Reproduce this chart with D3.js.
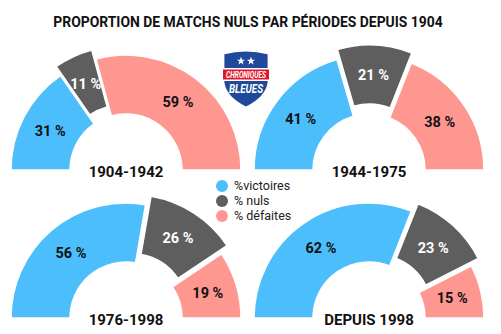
<!DOCTYPE html>
<html>
<head>
<meta charset="utf-8">
<script src="https://cdn.jsdelivr.net/npm/d3@7/dist/d3.min.js"></script>
<style>
  html, body { margin: 0; padding: 0; background: #fff; }
  svg { display: block; }
</style>
</head>
<body>
<svg id="chart" width="501" height="334"></svg>
<script>
const title = "PROPORTION DE MATCHS NULS PAR PÉRIODES DEPUIS 1904";
const periods = ["1904-1942", "1944-1975", "1976-1998", "DEPUIS 1998"];
const categories = ["victoires", "nuls", "defaites"];
const victoires = [31, 41, 56, 62];
const nuls = [11, 21, 26, 23];
const defaites = [59, 38, 19, 15];
const legendLabels = ["%victoires", "% nuls", "% défaites"];
const colors = ["#4bbefb", "#5e5e5e", "#ff9791"];
const labelColors = ["#111", "#fff", "#111"];

const W = 501, H = 334;
const svg = d3.select("#chart");
const FONT = "Roboto, 'Noto Sans', sans-serif";

svg.append("text")
  .attr("x", 248).attr("y", 27)
  .attr("text-anchor", "middle")
  .attr("font-family", FONT).attr("font-weight", "bold")
  .attr("font-size", 13.9).attr("fill", "#111")
  .text(title);

// grid of panels
const colX = d3.scalePoint().domain([0, 1]).range([126, 369]);
const rowY = d3.scalePoint().domain([0, 1]).range([170, 318]);
const outerR = 115, innerR = 56, explode = 10;

const pie = d3.pie().sort(null).value(d => d.value)
  .startAngle(-Math.PI / 2).endAngle(Math.PI / 2);
const arc = d3.arc().innerRadius(innerR).outerRadius(outerR);

periods.forEach((p, i) => {
  const data = [victoires[i], nuls[i], defaites[i]].map((v, k) => ({ key: categories[k], value: v, k }));
  const g = svg.append("g")
    .attr("transform", `translate(${colX(i % 2)},${rowY(Math.floor(i / 2))})`);
  const arcs = pie(data);
  const off = d => {
    if (d.data.k !== 1) return [0, 0];
    const a = (d.startAngle + d.endAngle) / 2;
    return [Math.sin(a) * explode, -Math.cos(a) * explode];
  };
  const slices = g.selectAll("g.slice").data(arcs).join("g")
    .attr("class", "slice")
    .attr("transform", d => `translate(${off(d)})`);
  slices.append("path")
    .attr("d", arc)
    .attr("fill", d => colors[d.data.k])
    .attr("stroke", "#fff").attr("stroke-width", 1.5);
  slices.append("text")
    .attr("transform", d => `translate(${arc.centroid(d)})`)
    .attr("dy", "0.36em")
    .attr("text-anchor", "middle")
    .attr("font-family", FONT).attr("font-weight", "bold")
    .attr("font-size", 14.5)
    .attr("fill", d => labelColors[d.data.k])
    .text(d => d.data.value + " %");
  g.append("text")
    .attr("x", 0).attr("y", 7)
    .attr("text-anchor", "middle")
    .attr("font-family", FONT).attr("font-weight", "bold")
    .attr("font-size", 15).attr("fill", "#111")
    .text(p);
});

// legend
const lg = svg.append("g").attr("transform", "translate(222,186)");
const ly = d3.scalePoint().domain(d3.range(legendLabels.length)).range([0, 30]);
legendLabels.forEach((t, k) => {
  lg.append("circle").attr("cx", 0).attr("cy", ly(k)).attr("r", 6).attr("fill", colors[k]);
  lg.append("text").attr("x", 12).attr("y", ly(k)).attr("dy", "0.35em")
    .attr("font-family", "Roboto, sans-serif").attr("font-size", 12.5)
    .attr("fill", "#222").text(t);
});

// logo (shield)
const logo = svg.append("g").attr("transform", "translate(246,50)");
const shield = "M-24,3 Q0,-3 24,3 L24,34 Q22,50 0,61 Q-22,50 -24,34 Z";
logo.append("path").attr("d", shield).attr("fill", "#fff");
logo.append("path").attr("d", shield).attr("fill", "#1f4a9c")
  .attr("transform", "translate(0,1.6) scale(0.9)");
[-5, 5].forEach(x => {
  logo.append("path")
    .attr("d", d3.symbol().type(d3.symbolStar).size(22)())
    .attr("transform", `translate(${x},11)`)
    .attr("fill", "#fff");
});
logo.append("rect").attr("x", -23).attr("y", 18).attr("width", 46).attr("height", 13).attr("fill", "#fff");
logo.append("rect").attr("x", -23).attr("y", 19.5).attr("width", 46).attr("height", 10).attr("fill", "#e0182d");
logo.append("text").attr("x", 0).attr("y", 28).attr("text-anchor", "middle")
  .attr("font-family", FONT).attr("font-weight", "bold").attr("font-style", "italic")
  .attr("font-size", 9.5).attr("fill", "#fff")
  .attr("textLength", 40).attr("lengthAdjust", "spacingAndGlyphs")
  .text("CHRONIQUES");
logo.append("text").attr("x", 0).attr("y", 43).attr("text-anchor", "middle")
  .attr("font-family", FONT).attr("font-weight", "bold").attr("font-style", "italic")
  .attr("font-size", 13).attr("fill", "#fff")
  .attr("textLength", 34).attr("lengthAdjust", "spacingAndGlyphs")
  .text("BLEUES");
</script>
</body>
</html>
